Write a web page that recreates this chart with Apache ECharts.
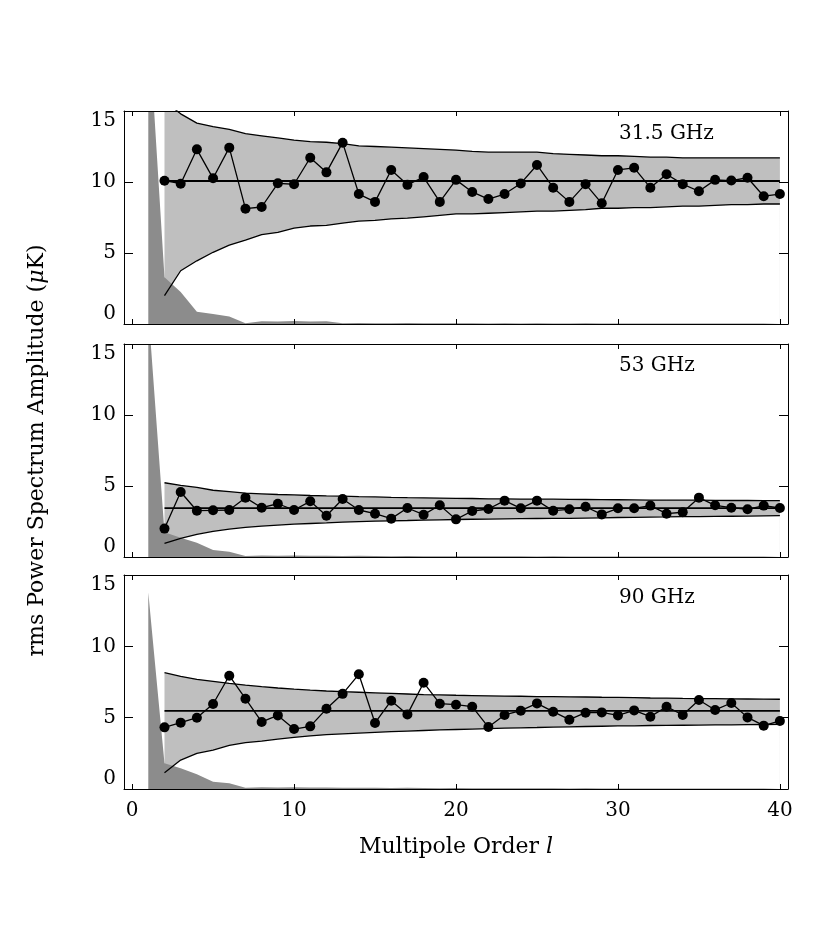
<!DOCTYPE html>
<html>
<head>
<meta charset="utf-8">
<script src="https://cdn.jsdelivr.net/npm/echarts@6/dist/echarts.min.js"></script>
<style>html,body{margin:0;padding:0;background:#fff;}#c{width:830px;height:928px;}</style>
</head>
<body>
<div id="c"></div>
<script>
// Multipole orders
const ellData = [2,3,4,5,6,7,8,9,10,11,12,13,14,15,16,17,18,19,20,21,22,23,24,25,26,27,28,29,30,31,32,33,34,35,36,37,38,39,40];
const ellFg = [1,2,3,4,5,6,7,8,9,10,11,12,13,14,15,16,17,18,19,20,21,22,23,24,25,26,27,28,29,30,31,32,33,34,35,36,37,38,39,40];
const xTicks = [0,10,20,30,40];
const yTicks = [0,5,10,15];
const panelLabels = ['31.5 GHz','53 GHz','90 GHz'];

// 31.5 GHz
const amp31 = [10.09,9.88,12.3,10.26,12.42,8.12,8.24,9.91,9.84,11.71,10.68,12.77,9.15,8.6,10.85,9.8,10.35,8.6,10.15,9.3,8.8,9.15,9.9,11.2,9.6,8.6,9.85,8.5,10.85,11.0,9.6,10.55,9.85,9.35,10.15,10.1,10.3,9.0,9.15];
const upper31 = [15.7,14.8,14.15,13.9,13.7,13.4,13.25,13.1,12.95,12.85,12.8,12.7,12.55,12.5,12.45,12.4,12.35,12.3,12.25,12.15,12.1,12.1,12.1,12.1,12.0,11.95,11.9,11.85,11.85,11.8,11.75,11.75,11.7,11.7,11.7,11.7,11.7,11.7,11.7];
const lower31 = [2.0,3.75,4.45,5.05,5.55,5.9,6.3,6.45,6.75,6.9,6.95,7.1,7.25,7.3,7.4,7.45,7.55,7.65,7.75,7.75,7.8,7.85,7.9,7.95,7.95,8.0,8.05,8.15,8.15,8.2,8.2,8.25,8.3,8.3,8.35,8.4,8.4,8.45,8.45];
const fg31 = [21.6,3.3,2.25,0.87,0.7,0.52,0.05,0.2,0.17,0.21,0.17,0.2,0.05,0.07,0.06,0.05,0.07,0.06,0.05,0.06,0.05,0.04,0.05,0.04,0.05,0.04,0.04,0.05,0.04,0.04,0.04,0.03,0.04,0.03,0.04,0.03,0.03,0.03,0.03,0.03];
const mean31 = 10.07;

// 53 GHz
const amp53 = [2.0,4.58,3.26,3.29,3.31,4.18,3.47,3.75,3.31,3.92,2.9,4.08,3.31,3.05,2.7,3.45,2.98,3.64,2.65,3.24,3.38,3.97,3.43,3.97,3.26,3.36,3.54,3.0,3.43,3.43,3.62,3.05,3.15,4.18,3.64,3.47,3.36,3.62,3.45];
const upper53 = [5.23,5.05,4.9,4.7,4.6,4.5,4.45,4.4,4.37,4.33,4.3,4.28,4.25,4.23,4.2,4.18,4.17,4.15,4.13,4.12,4.1,4.1,4.08,4.08,4.07,4.06,4.05,4.04,4.03,4.02,4.01,4.0,4.0,4.0,3.99,3.98,3.98,3.97,3.97];
const lower53 = [0.96,1.31,1.6,1.81,1.97,2.09,2.18,2.25,2.32,2.36,2.4,2.45,2.49,2.52,2.55,2.57,2.6,2.62,2.64,2.66,2.67,2.69,2.7,2.71,2.72,2.72,2.74,2.76,2.78,2.79,2.81,2.82,2.84,2.85,2.86,2.87,2.88,2.9,2.91];
const fg53 = [17.4,1.75,1.35,1.0,0.5,0.37,0.07,0.1,0.09,0.1,0.08,0.09,0.07,0.08,0.07,0.06,0.07,0.06,0.06,0.05,0.06,0.05,0.05,0.05,0.04,0.05,0.04,0.04,0.04,0.04,0.04,0.03,0.04,0.03,0.03,0.03,0.03,0.03,0.03,0.03];
const mean53 = 3.44;

// 90 GHz
const amp90 = [4.32,4.65,5.0,5.96,7.94,6.33,4.7,5.16,4.2,4.39,5.62,6.67,8.04,4.63,6.19,5.23,7.45,5.98,5.91,5.77,4.34,5.19,5.49,6.0,5.42,4.86,5.35,5.37,5.16,5.51,5.07,5.77,5.19,6.24,5.54,6.03,5.02,4.44,4.77];
const upper90 = [8.15,7.9,7.69,7.55,7.41,7.28,7.17,7.08,7.0,6.93,6.87,6.82,6.78,6.74,6.7,6.66,6.62,6.6,6.57,6.55,6.53,6.51,6.5,6.48,6.47,6.46,6.45,6.43,6.42,6.4,6.38,6.37,6.35,6.34,6.33,6.32,6.31,6.3,6.29];
const lower90 = [1.14,2.03,2.5,2.73,3.06,3.25,3.36,3.5,3.62,3.72,3.81,3.87,3.92,3.97,4.02,4.06,4.1,4.14,4.17,4.2,4.23,4.26,4.29,4.31,4.34,4.36,4.38,4.4,4.42,4.43,4.45,4.46,4.47,4.48,4.49,4.5,4.51,4.52,4.53];
const fg90 = [13.78,1.8,1.45,1.03,0.51,0.4,0.09,0.12,0.1,0.13,0.11,0.1,0.08,0.09,0.08,0.07,0.08,0.07,0.06,0.07,0.06,0.05,0.06,0.05,0.05,0.05,0.04,0.05,0.04,0.04,0.04,0.04,0.03,0.04,0.03,0.03,0.03,0.03,0.03,0.03];
const mean90 = 5.47;

const panels = [
  {amp: amp31, upper: upper31, lower: lower31, fg: fg31, mean: mean31},
  {amp: amp53, upper: upper53, lower: lower53, fg: fg53, mean: mean53},
  {amp: amp90, upper: upper90, lower: lower90, fg: fg90, mean: mean90}
];

const FONT = 'DejaVu Serif';
const gridTops = [111, 344, 575];
const gridHeights = [213, 213, 214];
const labelY = [134, 366, 598];

const grids = [], xAxes = [], yAxes = [], series = [], graphics = [];
const pair = (xs, ys) => xs.map((x, i) => [x, ys[i]]);

panels.forEach((p, i) => {
  grids.push({left: 124, right: 42, top: gridTops[i], height: gridHeights[i], containLabel: false});
  const isBottom = i === 2;
  // bottom x axis
  xAxes.push({
    type: 'value', gridIndex: i, min: -0.5, max: 40.5, position: 'bottom', z: 10,
    axisLine: {show: true, onZero: false, lineStyle: {color: '#000', width: 1}},
    axisTick: {show: true, inside: true, length: 5, customValues: xTicks, lineStyle: {color: '#000'}},
    axisLabel: {show: isBottom, customValues: xTicks, margin: 12, color: '#000', fontFamily: FONT, fontSize: 20},
    splitLine: {show: false},
    name: isBottom ? 'Multipole Order {i|l}' : '',
    nameLocation: 'middle', nameGap: 47,
    nameTextStyle: {color: '#000', fontFamily: FONT, fontSize: 22,
      rich: {i: {fontStyle: 'italic', fontFamily: FONT, fontSize: 22, color: '#000'}}}
  });
  // top x axis (ticks only)
  xAxes.push({
    type: 'value', gridIndex: i, min: -0.5, max: 40.5, position: 'top', z: 10,
    axisLine: {show: true, onZero: false, lineStyle: {color: '#000', width: 1}},
    axisTick: {show: true, inside: true, length: 5, customValues: xTicks, lineStyle: {color: '#000'}},
    axisLabel: {show: false},
    splitLine: {show: false}
  });
  // left y axis
  yAxes.push({
    type: 'value', gridIndex: i, min: 0, max: 15, interval: 5, position: 'left', z: 10,
    axisLine: {show: true, onZero: false, lineStyle: {color: '#000', width: 1}},
    axisTick: {show: true, inside: true, length: 9, lineStyle: {color: '#000'}},
    axisLabel: {show: true, margin: 8, color: '#000', fontFamily: FONT, fontSize: 20,
      verticalAlignMinLabel: 'bottom', verticalAlignMaxLabel: 'top'},
    splitLine: {show: false},
    name: i === 1 ? 'rms Power Spectrum Amplitude ({i|μ}K)' : '',
    nameLocation: 'middle', nameGap: 76,
    nameTextStyle: {color: '#000', fontFamily: FONT, fontSize: 22,
      rich: {i: {fontStyle: 'italic', fontFamily: FONT, fontSize: 22, color: '#000'}}}
  });
  // right y axis (ticks only)
  yAxes.push({
    type: 'value', gridIndex: i, min: 0, max: 15, interval: 5, position: 'right', z: 10,
    axisLine: {show: true, onZero: false, lineStyle: {color: '#000', width: 1}},
    axisTick: {show: true, inside: true, length: 9, lineStyle: {color: '#000'}},
    axisLabel: {show: false},
    splitLine: {show: false}
  });

  const xi = i * 2, yi = i * 2;
  const base = {type: 'line', xAxisIndex: xi, yAxisIndex: yi, symbol: 'none', silent: true, animation: false};
  // light band: fill up to upper, then blank out below lower
  series.push(Object.assign({}, base, {
    name: 'bandHigh' + i, data: pair(ellData, p.upper),
    lineStyle: {width: 0, opacity: 0}, areaStyle: {color: '#bfbfbf', opacity: 1, origin: 'start'}, z: 1
  }));
  series.push(Object.assign({}, base, {
    name: 'bandLow' + i, data: pair(ellData, p.lower),
    lineStyle: {width: 0, opacity: 0}, areaStyle: {color: '#ffffff', opacity: 1, origin: 'start'}, z: 1
  }));
  series.push(Object.assign({}, base, {
    name: 'fg' + i, data: pair(ellFg, p.fg),
    lineStyle: {width: 0, opacity: 0}, areaStyle: {color: '#8c8c8c', opacity: 1, origin: 'start'}, z: 2
  }));
  series.push(Object.assign({}, base, {
    name: 'upper' + i, data: pair(ellData, p.upper), lineStyle: {color: '#000', width: 1.3}, z: 3
  }));
  series.push(Object.assign({}, base, {
    name: 'lower' + i, data: pair(ellData, p.lower), lineStyle: {color: '#000', width: 1.3}, z: 3
  }));
  series.push(Object.assign({}, base, {
    name: 'mean' + i, data: [[ellData[0], p.mean], [ellData[ellData.length - 1], p.mean]],
    lineStyle: {color: '#000', width: 1.8}, z: 3
  }));
  series.push(Object.assign({}, base, {
    name: 'amp' + i, data: pair(ellData, p.amp), symbol: 'circle', symbolSize: 10,
    showSymbol: true, itemStyle: {color: '#000'}, lineStyle: {color: '#000', width: 1.3}, z: 4
  }));

  graphics.push({type: 'text', x: 619, y: labelY[i], silent: true,
    style: {text: panelLabels[i], fill: '#000', font: '20px "' + FONT + '"', verticalAlign: 'middle', align: 'left'}});
});

const chart = echarts.init(document.getElementById('c'), null, {renderer: 'canvas'});
chart.setOption({
  backgroundColor: '#fff',
  animation: false,
  grid: grids,
  xAxis: xAxes,
  yAxis: yAxes,
  series: series,
  graphic: graphics
});
</script>
</body>
</html>
